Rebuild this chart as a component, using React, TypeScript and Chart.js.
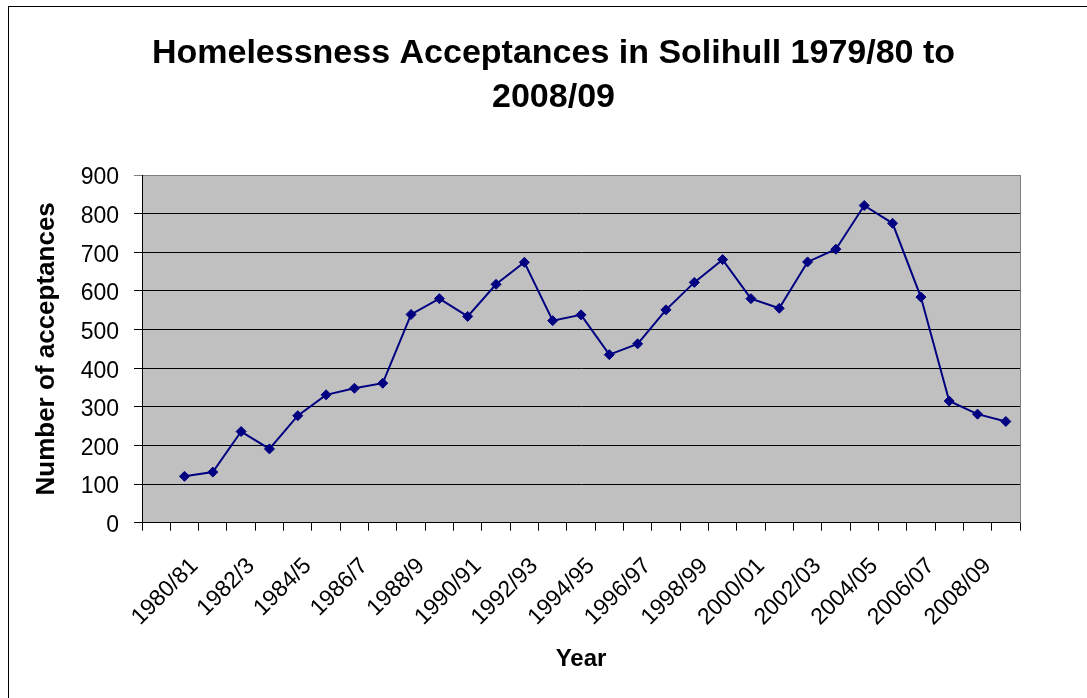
import React, { useEffect, useRef } from 'react';
import { Chart, registerables } from 'chart.js';

Chart.register(...registerables);

// Category labels (one per slot on the category axis); every other one is displayed
const categories: string[] = [
  '1979/80', '1980/81', '1981/82', '1982/3', '1983/4', '1984/5', '1985/6', '1986/7',
  '1987/8', '1988/9', '1989/90', '1990/91', '1991/92', '1992/93', '1993/94', '1994/95',
  '1995/96', '1996/97', '1997/98', '1998/99', '1999/00', '2000/01', '2001/02', '2002/03',
  '2003/04', '2004/05', '2005/06', '2006/07', '2007/08', '2008/09', '2009/10',
];

// Number of homelessness acceptances (first slot has no value)
const acceptances: (number | null)[] = [
  null, 120, 131, 236, 191, 277, 331, 348, 361, 539, 580,
  534, 617, 674, 523, 538, 435, 463, 551, 622, 681,
  580, 555, 675, 708, 821, 775, 584, 315, 281, 262,
];

const yTicks: number[] = [0, 100, 200, 300, 400, 500, 600, 700, 800, 900];

const titleLines: string[] = ['Homelessness Acceptances in Solihull 1979/80 to', '2008/09'];
const xTitle = 'Year';
const yTitle = 'Number of acceptances';

const FONT = "'Liberation Sans', Arial, Helvetica, sans-serif";

const TITLE_CENTER_X = 553.5;
const TITLE_FIRST_Y = 53.5;
const TITLE_LINE_GAP = 43.8;

const plotFrame = {
  id: 'plotFrame',
  beforeDraw(chart: any) {
    const { ctx, chartArea: a } = chart;
    ctx.save();
    ctx.fillStyle = '#C0C0C0';
    ctx.fillRect(a.left, a.top, a.right - a.left, a.bottom - a.top);
    ctx.restore();
  },
  beforeDatasetsDraw(chart: any) {
    const { ctx, chartArea: a } = chart;
    ctx.save();
    ctx.strokeStyle = '#808080';
    ctx.lineWidth = 1;
    const x = Math.round(a.right) + 0.5;
    ctx.beginPath();
    ctx.moveTo(x, a.top);
    ctx.lineTo(x, a.bottom);
    ctx.stroke();
    ctx.restore();
  },
  afterDraw(chart: any) {
    const { ctx } = chart;
    ctx.save();
    ctx.font = `bold 34px ${FONT}`;
    ctx.fillStyle = '#000';
    ctx.textAlign = 'center';
    ctx.textBaseline = 'middle';
    titleLines.forEach((t, i) => {
      ctx.fillText(t, TITLE_CENTER_X, TITLE_FIRST_Y + i * TITLE_LINE_GAP);
    });
    ctx.restore();
  },
};

export default function App() {
  const ref = useRef<HTMLCanvasElement | null>(null);

  useEffect(() => {
    if (!ref.current) return;
    const chart = new Chart(ref.current, {
      type: 'line',
      data: {
        labels: categories,
        datasets: [
          {
            label: 'Acceptances',
            data: acceptances,
            borderColor: '#000080',
            backgroundColor: '#000080',
            borderWidth: 2,
            pointStyle: 'rectRot',
            pointRadius: 5,
            pointHoverRadius: 5,
            pointBackgroundColor: '#000080',
            pointBorderColor: '#000080',
            pointBorderWidth: 1,
            tension: 0,
            fill: false,
          },
        ],
      },
      options: {
        responsive: false,
        animation: false,
        events: [],
        layout: { padding: { left: 31, top: 175, right: 67, bottom: 24 } },
        plugins: {
          legend: { display: false },
          tooltip: { enabled: false },
          title: { display: false },
        },
        scales: {
          x: {
            type: 'category',
            offset: true,
            grid: {
              display: true,
              offset: true,
              drawOnChartArea: false,
              drawTicks: true,
              tickLength: 8,
              color: '#000',
            },
            border: { display: true, color: '#000', width: 1 },
            ticks: {
              autoSkip: false,
              minRotation: 45,
              maxRotation: 45,
              padding: 22,
              labelOffset: 10,
              color: '#000',
              font: { family: FONT, size: 23 },
              callback: (_v: any, i: number) => (i % 2 === 1 ? categories[i] : ''),
            },
            title: {
              display: true,
              text: xTitle,
              color: '#000',
              font: { family: FONT, size: 24, weight: 'bold', lineHeight: 1.2 },
              padding: 0,
            },
            afterFit: (scale: any) => {
              scale.height = 151.3;
            },
          },
          y: {
            min: 0,
            max: 900,
            afterBuildTicks: (scale: any) => {
              scale.ticks = yTicks.map((v) => ({ value: v }));
            },
            grid: {
              color: (c: any) => (c.tick && c.tick.value === 900 ? '#808080' : '#000'),
              lineWidth: 1,
              tickLength: 8,
              drawTicks: true,
            },
            border: { display: true, color: '#000', width: 1 },
            ticks: {
              color: '#000',
              padding: 15,
              labelOffset: 3,
              font: { family: FONT, size: 23 },
            },
            title: {
              display: true,
              text: yTitle,
              color: '#000',
              font: { family: FONT, size: 26, weight: 'bold', lineHeight: 1.2 },
              padding: 0,
            },
            afterFit: (scale: any) => {
              scale.width = 111;
            },
          },
        },
      },
      plugins: [plotFrame],
    });
    return () => chart.destroy();
  }, []);

  return (
    <div style={{ position: 'absolute', left: 0, top: 0, width: 1087, height: 698, overflow: 'hidden', background: '#fff' }}>
      <div
        style={{
          position: 'absolute',
          left: 8,
          top: 6,
          width: 1200,
          height: 800,
          border: '1px solid #000',
          boxSizing: 'border-box',
        }}
      />
      <canvas
        ref={ref}
        width={1087}
        height={698}
        style={{ position: 'absolute', left: 0, top: 0, width: 1087, height: 698, display: 'block' }}
      />
    </div>
  );
}
